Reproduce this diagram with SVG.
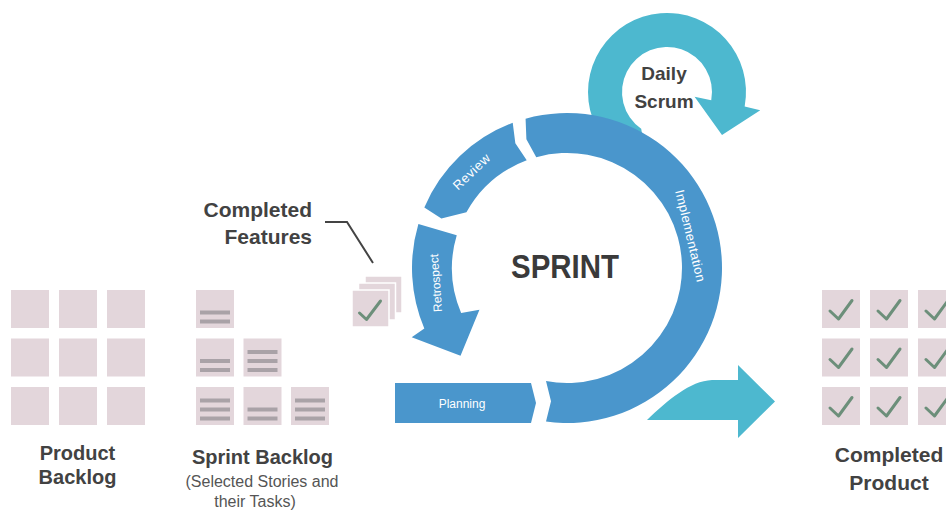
<svg xmlns="http://www.w3.org/2000/svg" width="946" height="512" viewBox="0 0 946 512">
<defs>
<style>
.ring{fill:#4A96CC}
.teal{fill:#4DB8CF}
.card{fill:#E3D6DB}
.cardw{fill:#E3D6DB;stroke:#fff;stroke-width:1.5}
.ln{fill:#A9A2A7}
.chk{fill:none;stroke:#6C8F7A;stroke-width:3;stroke-linecap:round;stroke-linejoin:round}
.lbl{font-family:"Liberation Sans",Arial,sans-serif;font-weight:bold;fill:#424242;font-size:20px;text-anchor:middle}
.sub{font-family:"Liberation Sans",Arial,sans-serif;fill:#555;font-size:16px;text-anchor:middle}
.seg{font-family:"Liberation Sans",Arial,sans-serif;fill:#fff;font-size:12px;text-anchor:middle}
.lead{fill:none;stroke:#444;stroke-width:2}
</style>
<rect id="cd" class="card" width="38" height="38"/>
<g id="l2"><rect class="card" width="38" height="38"/><rect class="ln" x="4" y="20.5" width="30" height="4"/><rect class="ln" x="4" y="29.5" width="30" height="4"/></g>
<g id="l3"><rect class="card" width="38" height="38"/><rect class="ln" x="4" y="11.5" width="30" height="4"/><rect class="ln" x="4" y="20.5" width="30" height="4"/><rect class="ln" x="4" y="29.5" width="30" height="4"/></g>
<g id="ck"><rect class="card" width="38" height="38"/><path class="chk" d="M8,21 L16.5,29 L30,10.5"/></g>
</defs>
<rect width="946" height="512" fill="#fff"/>

<g id="daily-scrum">
<path class="teal" d="M592.76,119.02 A79 79 0 1 1 744.68,106.40 L760.25,110.13 L722,135 L694.57,96.86 L711.25,100.20 A45 45 0 1 0 641.19,128.86 L645,150 Z"/>
<text class="lbl" x="664" y="80" style="font-size:19px">Daily</text>
<text class="lbl" x="664" y="108" style="font-size:19px">Scrum</text>
</g>

<g id="implementation">
<path class="ring" d="M546,421.57 L551,401.3 L546,381.07 A115 115 0 1 0 536.27,157.18 L526.40,139.25 L525.58,118.64 A155 155 0 1 1 546,421.57 Z"/>
<text class="seg" transform="translate(690,236) rotate(76.5)" y="4" style="font-size:13px;letter-spacing:0.4px">Implementation</text>
</g>

<g id="review">
<path class="ring" d="M512.72,122.82 A155 155 0 0 0 424.32,207.44 L441.39,218.52 L466.42,212.25 A115 115 0 0 1 526.73,160.28 L515.34,143.28 Z"/>
<text class="seg" transform="translate(472,172) rotate(-43.5)" y="4" style="font-size:13px;letter-spacing:0.6px">Review</text>
</g>

<g id="retrospect">
<path class="ring" d="M418.38,223.98 A155 155 0 0 0 424.32,328.56 L411.70,337.15 L460.52,355.78 L479.45,309.76 L461.14,312.93 A115 115 0 0 1 456.74,235.34 Z"/>
<text class="seg" transform="translate(436,283) rotate(-94)" y="4">Retrospect</text>
</g>

<g id="planning">
<path class="ring" d="M395,383 L531,383 L536,403 L531,423 L395,423 Z"/>
<text class="seg" x="462" y="408">Planning</text>
</g>

<g id="sprint">
<text class="lbl" x="565" y="278" style="font-size:34px;fill:#3a3a3a" textLength="108" lengthAdjust="spacingAndGlyphs">SPRINT</text>
</g>

<g id="output-arrow">
<path class="teal" d="M647,420 C668,400 690,381 712,380 L738,380 L738,365 L775,401.5 L738,438 L738,420 Z"/>
</g>

<g id="product-backlog">
<use href="#cd" x="11" y="290"/><use href="#cd" x="59" y="290"/><use href="#cd" x="107" y="290"/>
<use href="#cd" x="11" y="338.5"/><use href="#cd" x="59" y="338.5"/><use href="#cd" x="107" y="338.5"/>
<use href="#cd" x="11" y="387"/><use href="#cd" x="59" y="387"/><use href="#cd" x="107" y="387"/>
<text class="lbl" x="77.5" y="460">Product</text>
<text class="lbl" x="77.5" y="484">Backlog</text>
</g>

<g id="sprint-backlog">
<use href="#l2" x="196" y="290"/>
<use href="#l2" x="196" y="338.5"/><use href="#l3" x="243.5" y="338.5"/>
<use href="#l3" x="196" y="387"/><use href="#l2" x="243.5" y="387"/><use href="#l3" x="291" y="387"/>
<text class="lbl" x="262.5" y="464">Sprint Backlog</text>
<text class="sub" x="262" y="487">(Selected Stories and</text>
<text class="sub" x="255" y="507">their Tasks)</text>
</g>

<g id="completed-features">
<rect class="cardw" x="365" y="276" width="37" height="37"/>
<rect class="cardw" x="358.5" y="283" width="37" height="37"/>
<rect class="cardw" x="352" y="290" width="37" height="37"/>
<path class="chk" d="M359.5,313 L366.5,319.5 L380.5,301"/>
<text class="lbl" x="312" y="217" style="text-anchor:end;font-size:21px">Completed</text>
<text class="lbl" x="312" y="244" style="text-anchor:end;font-size:21px">Features</text>
</g>

<g id="completed-product">
<use href="#ck" x="822" y="290"/><use href="#ck" x="870" y="290"/><use href="#ck" x="918" y="290"/>
<use href="#ck" x="822" y="338.5"/><use href="#ck" x="870" y="338.5"/><use href="#ck" x="918" y="338.5"/>
<use href="#ck" x="822" y="387"/><use href="#ck" x="870" y="387"/><use href="#ck" x="918" y="387"/>
<text class="lbl" x="889" y="462" style="font-size:21px">Completed</text>
<text class="lbl" x="889" y="490" style="font-size:21px">Product</text>
</g>

<g id="connectors">
<polyline class="lead" points="325,222 347,222 373,263"/>
</g>
</svg>
